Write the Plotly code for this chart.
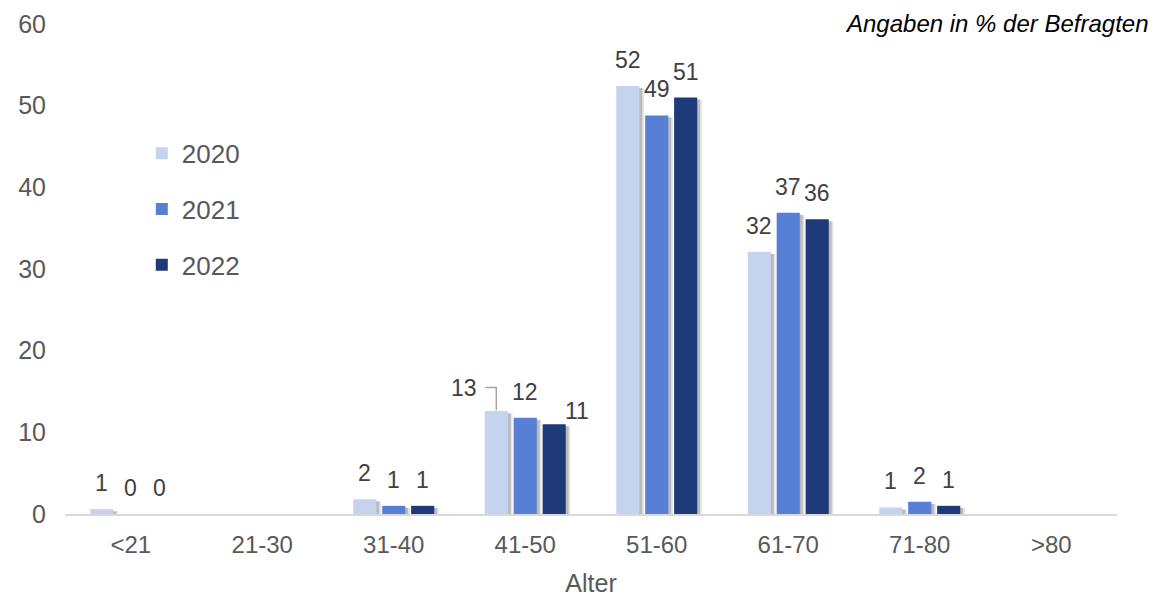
import plotly.graph_objects as go

categories = ["<21", "21-30", "31-40", "41-50", "51-60", "61-70", "71-80", ">80"]
years = ["2020", "2021", "2022"]
v2020 = [0.6, None, 1.8, 12.6, 52.4, 32.1, 0.8, None]
v2021 = [0.0, None, 1.0, 11.8, 48.8, 36.9, 1.5, None]
v2022 = [0.0, None, 1.0, 11.0, 51.0, 36.1, 1.0, None]
series = [v2020, v2021, v2022]
colors = ["#C5D3EE", "#577FD5", "#1F3A78"]

font_family = "Liberation Sans, Arial, sans-serif"
grey = "#595959"

bargap = 0.34
bargroupgap = 0.2
slot = (1 - bargap) / 3
barw = slot * (1 - bargroupgap)

fig = go.Figure()
shapes = []
for j, (name, vals, col) in enumerate(zip(years, series, colors)):
    fig.add_trace(go.Bar(
        x=categories, y=[v if v is not None else 0 for v in vals], name=name,
        marker=dict(color=col, line=dict(width=0)),
        legendgroup=name,
    ))
    # soft drop shadows behind the bars
    for i, v in enumerate(vals):
        if not v:
            continue
        xc = i + (j - 1) * slot
        for off, op in ((0.035, 0.10), (0.022, 0.18)):
            shapes.append(dict(type="rect", xref="x", yref="y", layer="below",
                               x0=xc - barw / 2 + off, x1=xc + barw / 2 + off,
                               y0=-0.25, y1=max(v - 0.25, 0),
                               fillcolor=f"rgba(0,0,0,{op})", line=dict(width=0)))

annotations = []
label_font = dict(size=23, color="#404040", family=font_family)
for j, vals in enumerate(series):
    for i, v in enumerate(vals):
        if v is None:
            continue
        xc = i + (j - 1) * slot
        if j == 0 and categories[i] == "41-50":
            annotations.append(dict(x=xc - 0.243, y=15.4, xref="x", yref="y",
                                    text=str(round(v)), showarrow=False, yanchor="middle",
                                    font=label_font))
            shapes.append(dict(type="path", xref="x", yref="y",
                               path=f"M {xc - 0.085} 15.5 L {xc} 15.5 L {xc} {v + 0.1}",
                               line=dict(color="#A6A6A6", width=1.5)))
            continue
        xshift, yshift = 0, 11
        if j == 2 and categories[i] == "41-50":
            xshift, yshift = 23, -2
        annotations.append(dict(x=xc, y=v, xref="x", yref="y",
                                text=str(round(v)), showarrow=False, yanchor="bottom",
                                xshift=xshift, yshift=yshift, font=label_font))

annotations.append(dict(x=1.0, y=1.0, xref="paper", yref="paper", xanchor="right", yanchor="middle",
                        xshift=34, yshift=1,
                        text="<i>Angaben in % der Befragten</i>", showarrow=False,
                        font=dict(size=24, color="#000000", family=font_family)))

fig.update_layout(
    width=1171, height=596,
    margin=dict(l=57, r=62, t=16, b=90),
    plot_bgcolor="white", paper_bgcolor="white",
    barmode="group", bargap=bargap, bargroupgap=bargroupgap,
    font=dict(family=font_family, color=grey, size=24),
    showlegend=True,
    legend=dict(x=0.073, y=0.784, xanchor="left", yanchor="top",
                font=dict(size=26, color=grey), tracegroupgap=19,
                bgcolor="rgba(0,0,0,0)", itemwidth=30),
    xaxis=dict(title=dict(text="Alter", font=dict(size=25, color=grey), standoff=18),
               showline=True, linecolor="#D9D9D9", linewidth=2, ticks="", automargin=False,
               tickfont=dict(size=24, color=grey), showgrid=False, ticklabelstandoff=8),
    yaxis=dict(range=[0, 60], dtick=10, showgrid=False, zeroline=False, showline=False,
               automargin=False,
               tickfont=dict(size=25, color=grey), ticks="", ticklabelstandoff=18),
    annotations=annotations,
    shapes=shapes,
)

fig.write_html("out.html")
